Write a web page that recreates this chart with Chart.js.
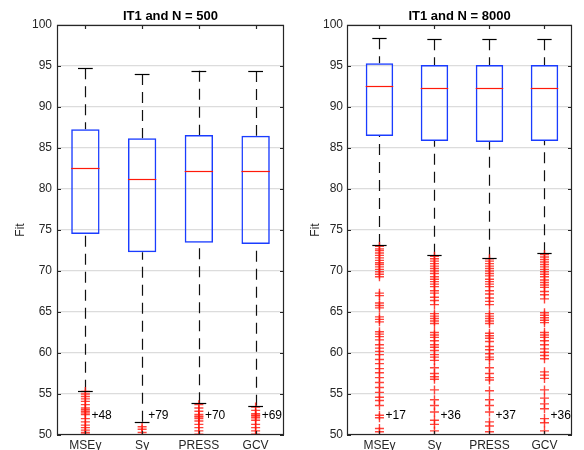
<!DOCTYPE html>
<html>
<head>
<meta charset="utf-8">
<script src="https://cdn.jsdelivr.net/npm/chart.js@4.4.0/dist/chart.umd.min.js"></script>
<style>
  body { margin: 0; background: #fff; }
  #wrap { position: relative; width: 584px; height: 450px; overflow: hidden; }
  canvas { position: absolute; top: 0; }
  #left { left: 0; }
  #right { left: 292px; }
</style>
</head>
<body>
<div id="wrap">
  <canvas id="left" width="292" height="450"></canvas>
  <canvas id="right" width="292" height="450"></canvas>
</div>
<script>
// categories and y ticks
const categories = ["MSEy", "Sy", "PRESS", "GCV"];
const yTicks = [50, 55, 60, 65, 70, 75, 80, 85, 90, 95, 100];

// IT1 and N = 500
const upper500 = [94.72, 94.02, 94.43, 94.39];
const q3_500 = [87.28, 86.18, 86.59, 86.50];
const median500 = [82.52, 81.18, 82.20, 82.16];
const q1_500 = [74.51, 72.28, 73.46, 73.29];
const lower500 = [55.40, 51.63, 53.86, 53.58];
const hidden500 = [48, 79, 70, 69]; // outliers below the axis
const outMSEy500 = [55.3, 55.0, 54.7, 54.4, 54.1, 53.7, 53.3, 53.1, 52.9, 52.7, 52.5, 52.0, 51.6, 51.2, 50.9, 50.6, 50.3, 50.1];
const outSy500 = [51.0, 50.7, 50.3];
const outPRESS500 = [53.7, 53.3, 52.9, 52.5, 52.3, 52.2, 52.0, 51.7, 51.3, 50.9, 50.5, 50.1];
const outGCV500 = [53.4, 53.0, 52.6, 52.4, 52.3, 52.1, 51.8, 51.3, 50.9, 50.5, 50.1];

// IT1 and N = 8000
const upper8000 = [98.37, 98.25, 98.25, 98.25];
const q3_8000 = [95.33, 95.12, 95.12, 95.12];
const median8000 = [92.60, 92.32, 92.36, 92.32];
const q1_8000 = [86.46, 85.85, 85.73, 85.85];
const lower8000 = [73.17, 71.99, 71.63, 72.16];
const hidden8000 = [17, 36, 37, 36];
const outMSEy8000 = [73.0, 72.7, 72.5, 72.2, 71.9, 71.6, 71.3, 71.0, 70.8, 70.5, 70.2, 69.9, 69.6, 69.3, 67.3, 67.0, 66.1, 65.8, 65.5, 64.4, 64.1, 63.8, 62.6, 62.3, 62.0, 61.6, 61.0, 60.6, 60.2, 59.8, 59.2, 58.7, 58.1, 57.6, 57.0, 56.4, 55.8, 55.2, 54.6, 54.2, 53.6, 52.4, 52.1, 50.8, 50.4];
const outSy8000 = [71.8, 71.5, 71.2, 70.9, 70.6, 70.3, 70.0, 69.7, 69.3, 69.0, 68.7, 68.4, 68.1, 67.6, 67.3, 66.8, 66.4, 65.9, 64.8, 64.5, 64.2, 63.9, 63.6, 62.5, 62.2, 61.9, 61.5, 61.0, 60.7, 60.3, 59.8, 59.5, 59.1, 58.2, 57.5, 57.1, 56.8, 55.5, 54.3, 53.6, 52.8, 51.8, 51.3, 50.5];
const outPRESS8000 = [71.5, 71.2, 70.9, 70.6, 70.3, 70.0, 69.7, 69.4, 69.0, 68.7, 68.4, 68.1, 67.6, 67.2, 66.7, 66.3, 65.9, 64.8, 64.5, 64.2, 63.9, 63.6, 62.4, 62.1, 61.8, 61.4, 60.8, 60.4, 59.9, 59.5, 59.2, 58.2, 57.5, 57.0, 56.7, 55.4, 54.3, 53.6, 52.8, 51.6, 51.1, 50.4];
const outGCV8000 = [72.0, 71.7, 71.4, 71.1, 70.8, 70.5, 70.2, 69.9, 69.6, 69.3, 68.9, 68.6, 68.3, 68.0, 67.5, 67.1, 66.6, 64.9, 64.6, 64.3, 64.0, 63.7, 62.5, 62.2, 61.9, 61.5, 61.0, 60.5, 60.1, 59.7, 59.3, 57.7, 57.3, 56.9, 55.5, 54.5, 53.8, 53.2, 52.0, 51.5, 50.5];

const axisColor = "#262626";
const fontFamily = "'Liberation Sans', Arial, sans-serif";

// whiskers, caps, medians, frame, inside ticks and the "+n" counts
function makeBoxPlugin(s) {
  return {
    id: "boxExtras",
    beforeDatasetsDraw(chart) {
      const { ctx, chartArea: a, scales: { x, y } } = chart;
      ctx.save();
      ctx.beginPath();
      ctx.rect(a.left, a.top, a.width, a.height);
      ctx.clip();
      ctx.strokeStyle = "#111";
      ctx.lineWidth = 1.2;
      ctx.setLineDash([11, 7]);
      s.upper.forEach((u, i) => {
        const px = Math.round(x.getPixelForValue(i + 1)) + 0.5;
        ctx.beginPath();
        ctx.moveTo(px, y.getPixelForValue(u));
        ctx.lineTo(px, y.getPixelForValue(s.q3[i]));
        ctx.stroke();
        ctx.beginPath();
        ctx.moveTo(px, y.getPixelForValue(s.lower[i]));
        ctx.lineTo(px, y.getPixelForValue(s.q1[i]));
        ctx.stroke();
      });
      ctx.restore();
    },
    afterDatasetsDraw(chart) {
      const { ctx, chartArea: a, scales: { x, y } } = chart;
      ctx.save();
      // caps
      ctx.strokeStyle = "#000";
      ctx.lineWidth = 1.2;
      s.upper.forEach((u, i) => {
        [u, s.lower[i]].forEach((v) => {
          const py = Math.round(y.getPixelForValue(v)) + 0.5;
          ctx.beginPath();
          ctx.moveTo(x.getPixelForValue(i + 1 - 0.13), py);
          ctx.lineTo(x.getPixelForValue(i + 1 + 0.13), py);
          ctx.stroke();
        });
      });
      // medians
      ctx.strokeStyle = "#ff1a0a";
      ctx.lineWidth = 1.2;
      s.median.forEach((m, i) => {
        const py = Math.round(y.getPixelForValue(m)) + 0.5;
        ctx.beginPath();
        ctx.moveTo(x.getPixelForValue(i + 1 - 0.25), py);
        ctx.lineTo(x.getPixelForValue(i + 1 + 0.25), py);
        ctx.stroke();
      });
      // frame and inside ticks
      ctx.strokeStyle = axisColor;
      ctx.lineWidth = 1.2;
      ctx.strokeRect(a.left + 0.5, a.top + 0.5, a.width - 1, a.height - 1);
      ctx.beginPath();
      yTicks.forEach((t) => {
        const py = Math.round(y.getPixelForValue(t)) + 0.5;
        ctx.moveTo(a.left, py); ctx.lineTo(a.left + 4, py);
        ctx.moveTo(a.right, py); ctx.lineTo(a.right - 4, py);
      });
      categories.forEach((c, i) => {
        const px = Math.round(x.getPixelForValue(i + 1)) + 0.5;
        ctx.moveTo(px, a.top); ctx.lineTo(px, a.top + 4);
        ctx.moveTo(px, a.bottom); ctx.lineTo(px, a.bottom - 4);
      });
      ctx.stroke();
      // counts of outliers below the axis
      ctx.fillStyle = "#000";
      ctx.font = "12px " + fontFamily;
      ctx.textAlign = "left";
      ctx.textBaseline = "middle";
      s.hidden.forEach((n, i) => {
        ctx.fillText("+" + n, x.getPixelForValue(i + 1) + 6, y.getPixelForValue(52.4));
      });
      // title
      ctx.font = "bold 13px " + fontFamily;
      ctx.textAlign = "center";
      ctx.fillText(s.title, (a.left + a.right) / 2, 16);
      ctx.restore();
    }
  };
}

function makeChart(id, s) {
  const toPoints = (arr, i) => arr.map((v) => ({ x: i + 1, y: v }));
  const outPoints = s.outliers.flatMap((arr, i) => toPoints(arr, i));
  return new Chart(document.getElementById(id), {
    type: "bar",
    data: {
      datasets: [
        {
          type: "line",
          data: outPoints,
          showLine: false,
          pointStyle: "cross",
          pointRadius: 4.5,
          pointBorderWidth: 1.4,
          pointBorderColor: "rgba(255,20,10,0.8)",
          pointBackgroundColor: "rgba(255,20,10,0.8)",
          clip: 0,
          order: 0,
        },
        {
          data: s.q1.map((q, i) => ({ x: i + 1, y: [q, s.q3[i]] })),
          backgroundColor: "rgba(0,0,0,0)",
          borderColor: "#1a3cff",
          borderWidth: 1.5,
          borderSkipped: false,
          barPercentage: 0.5,
          categoryPercentage: 1,
          order: 1,
        },
      ],
    },
    options: {
      responsive: false,
      animation: false,
      layout: { padding: { top: 25, left: 0, right: s.padRight, bottom: 0 } },
      plugins: { legend: { display: false }, tooltip: { enabled: false } },
      scales: {
        x: {
          type: "linear",
          min: s.xMin,
          max: 4.5,
          offset: false,
          grid: { display: false, drawTicks: false },
          border: { display: false },
          afterBuildTicks: (sc) => { sc.ticks = categories.map((c, i) => ({ value: i + 1 })); },
          afterFit: (sc) => { sc.height = 15; },
          ticks: {
            padding: 3,
            color: axisColor,
            font: { size: 12, family: fontFamily },
            callback: (v) => categories[Math.round(v) - 1],
            maxRotation: 0,
          },
        },
        y: {
          min: 50,
          max: 100,
          afterBuildTicks: (sc) => { sc.ticks = yTicks.map((v) => ({ value: v })); },
          afterFit: (sc) => { sc.width = s.yWidth; },
          grid: { color: "#dcdcdc", lineWidth: 1.2, drawTicks: false },
          border: { display: false },
          ticks: { padding: s.tickPad, color: axisColor, font: { size: 12, family: fontFamily } },
          title: {
            display: true,
            text: "Fit",
            color: axisColor,
            font: { size: 12, family: fontFamily },
            padding: { top: s.titlePad, bottom: 0 },
          },
        },
      },
    },
    plugins: [makeBoxPlugin(s)],
  });
}

makeChart("left", {
  title: "IT1 and N = 500",
  upper: upper500, q3: q3_500, median: median500, q1: q1_500, lower: lower500,
  hidden: hidden500,
  outliers: [outMSEy500, outSy500, outPRESS500, outGCV500],
  xMin: 0.5, padRight: 8, yWidth: 57, tickPad: 5, titlePad: 13,
});

makeChart("right", {
  title: "IT1 and N = 8000",
  upper: upper8000, q3: q3_8000, median: median8000, q1: q1_8000, lower: lower8000,
  hidden: hidden8000,
  outliers: [outMSEy8000, outSy8000, outPRESS8000, outGCV8000],
  xMin: 0.41, padRight: 12, yWidth: 55, tickPad: 4, titlePad: 16,
});
</script>
</body>
</html>
